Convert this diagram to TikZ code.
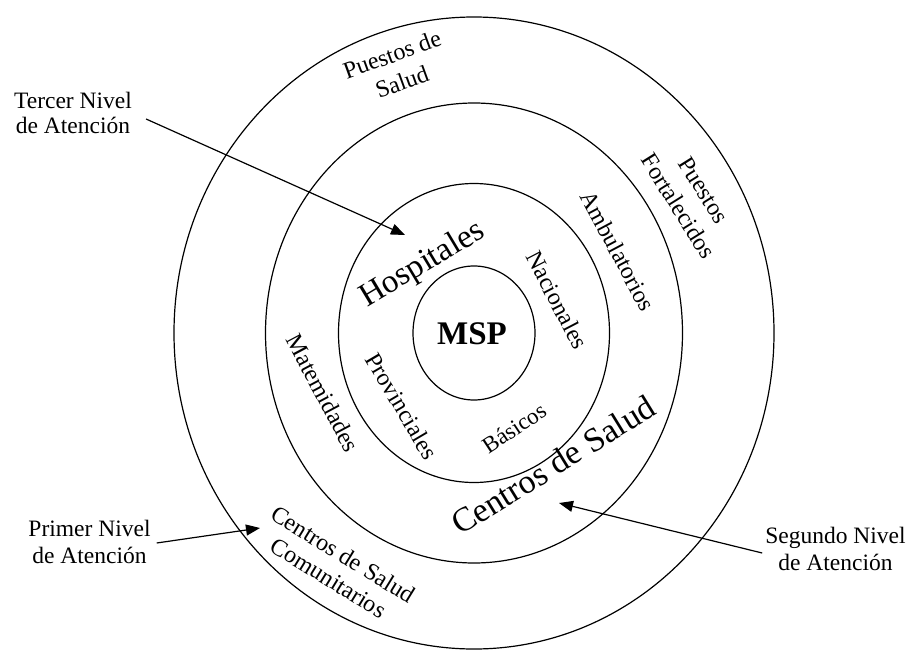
\documentclass[tikz,border=0pt]{standalone}
\usepackage{fontspec}
\setmainfont{Liberation Serif}
\usetikzlibrary{arrows.meta}
\begin{document}
\begin{tikzpicture}[x=1pt,y=-1pt,
  ring/.style={draw, line width=1.2pt},
  lvl/.style={font=\fontsize{23.5}{27}\selectfont, align=center, inner sep=0pt},
  ringtxt/.style={font=\fontsize{24}{27}\selectfont, align=center, inner sep=0pt},
  bigtxt/.style={font=\fontsize{34}{38}\selectfont, inner sep=0pt},
  pointer/.style={line width=1.2pt, -{Triangle[length=14pt,width=11pt]}}]
\useasboundingbox (0,0) rectangle (910,650);

% concentric rings
\coordinate (c) at (474,333);
\draw[ring] (c) ellipse [x radius=300, y radius=316];
\draw[ring] (c) ellipse [x radius=208.5, y radius=230];
\draw[ring] (c) ellipse [x radius=135.5, y radius=149.5];
\draw[ring] (c) ellipse [x radius=61, y radius=67];

% centre
\node[font=\fontsize{33}{36}\selectfont\bfseries, inner sep=0pt] (msp) at (472,334) {MSP};

% third ring
\node[bigtxt, rotate=31, font=\fontsize{33}{36}\selectfont] (hosp) at (423,265) {Hospitales};
\node[ringtxt, rotate=-62.5] (nac) at (557,300) {Nacionales};
\node[ringtxt, rotate=-59.5] (prov) at (402,406) {Provinciales};
\node[ringtxt, rotate=33.5, font=\fontsize{23}{26}\selectfont] (bas) at (514,428) {Básicos};

% second ring
\node[ringtxt, rotate=-62] (amb) at (618,251) {Ambulatorios};
\node[ringtxt, rotate=-62] (mat) at (323,393) {Matemidades};
\node[bigtxt, rotate=31.7] (cds) at (553,465) {Centros de Salud};

% outer ring
\node[ringtxt, rotate=20, font=\fontsize{24}{29}\selectfont] (pds) at (397,68) {Puestos de\\Salud};
\node[ringtxt, rotate=-58, font=\fontsize{24}{30}\selectfont] (pf) at (691,198) {Puestos\\Fortalecidos};
\node[ringtxt, rotate=-31.6, font=\fontsize{24}{27.5}\selectfont] (cdsc) at (336,566) {Centros de Salud\\Comunitarios};

% level labels
\node[lvl, font=\fontsize{23.5}{25}\selectfont] (tercer) at (73,113) {Tercer Nivel\\de Atención};
\node[lvl] (primer) at (89.5,542) {Primer Nivel\\de Atención};
\node[lvl] (segundo) at (835.5,549) {Segundo Nivel\\de Atención};

% pointers
\coordinate (tip3) at (405,235);
\coordinate (tip1) at (260,528);
\coordinate (tip2) at (559,503);
\draw[pointer] ([shift={(14,6)}]tercer.east) -- (tip3);
\draw[pointer] ([shift={(6,1)}]primer.east) -- (tip1);
\draw[pointer] ([shift={(-3,4)}]segundo.west) -- (tip2);
\end{tikzpicture}
\end{document}
